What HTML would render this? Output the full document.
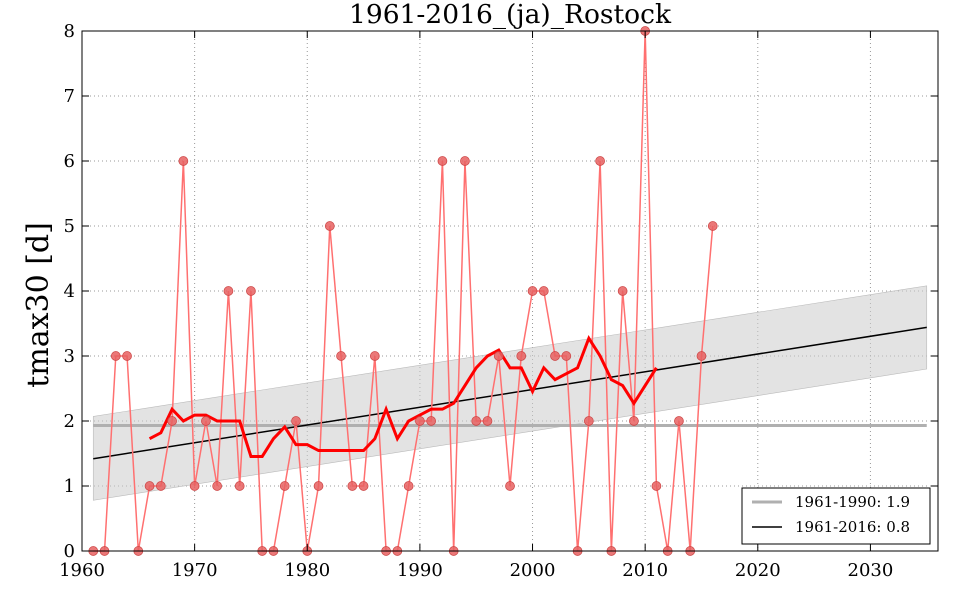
<!DOCTYPE html>
<html><head><meta charset="utf-8"><style>body{margin:0;background:#fff}svg{display:block}</style></head>
<body>
<svg id="s" width="960" height="600" xmlns="http://www.w3.org/2000/svg" font-family="'DejaVu Serif','Liberation Serif',serif">
<rect width="960" height="600" fill="#fff"/>
<g id="g"></g>
</svg>
<script>
const v=[0,0,3,3,0,1,1,2,6,1,2,1,4,1,4,0,0,1,2,0,1,5,3,1,1,3,0,0,1,2,2,6,0,6,2,2,3,1,3,4,4,3,3,0,2,6,0,4,2,8,1,0,2,0,3,5];
const X=y=>82+(y-1960)*856/76, Y=t=>551-t*65;
let h='';
for(let yr=1970;yr<=2030;yr+=10)h+=`<line x1="${X(yr)}" y1="31" x2="${X(yr)}" y2="551" stroke="#999" stroke-dasharray="1,3"/>`;
for(let t=1;t<8;t++)h+=`<line x1="82" y1="${Y(t)}" x2="938" y2="${Y(t)}" stroke="#999" stroke-dasharray="1,3"/>`;
h+=`<polygon points="${X(1961)},${Y(2.07)} ${X(2035)},${Y(4.08)} ${X(2035)},${Y(2.8)} ${X(1961)},${Y(0.78)}" fill="#ccc" fill-opacity="0.55" stroke="#bbb" stroke-width="0.6"/>`;
h+=`<line x1="${X(1961)}" y1="${Y(1.93)}" x2="${X(2035)}" y2="${Y(1.93)}" stroke="#b0b0b0" stroke-width="3"/>`;
h+=`<line x1="${X(1961)}" y1="${Y(1.42)}" x2="${X(2035)}" y2="${Y(3.44)}" stroke="#000" stroke-width="1.5"/>`;
h+=`<polyline fill="none" stroke="#ff7070" stroke-width="1.5" points="${v.map((t,i)=>X(1961+i)+','+Y(t)).join(' ')}"/>`;
let m=[];for(let i=5;i<v.length-5;i++){let s=0;for(let k=-5;k<=5;k++)s+=v[i+k];m.push(X(1961+i)+','+Y(s/11));}
h+=`<polyline fill="none" stroke="#f00" stroke-width="3" points="${m.join(' ')}"/>`;
v.forEach((t,i)=>h+=`<circle cx="${X(1961+i)}" cy="${Y(t)}" r="4.5" fill="#e86060" fill-opacity="0.85" stroke="#c44" stroke-width="0.7"/>`);
h+=`<rect x="82" y="31" width="856" height="520" fill="none" stroke="#000" stroke-width="1"/>`;
for(let yr=1960;yr<=2030;yr+=10){h+=`<line x1="${X(yr)}" y1="551" x2="${X(yr)}" y2="544" stroke="#000"/><line x1="${X(yr)}" y1="31" x2="${X(yr)}" y2="38" stroke="#000"/><text x="${X(yr)}" y="576" font-size="18" text-anchor="middle">${yr}</text>`;}
for(let t=0;t<=8;t++){h+=`<line x1="82" y1="${Y(t)}" x2="89" y2="${Y(t)}" stroke="#000"/><line x1="938" y1="${Y(t)}" x2="931" y2="${Y(t)}" stroke="#000"/><text x="75" y="${Y(t)+6}" font-size="18" text-anchor="end">${t}</text>`;}
h+=`<text x="510" y="23" font-size="26.5" text-anchor="middle">1961-2016_(ja)_Rostock</text>`;
h+=`<text transform="translate(48,305) rotate(-90)" font-size="30" text-anchor="middle">tmax30 [d]</text>`;
h+=`<rect x="742" y="488" width="188" height="56" fill="#fff" stroke="#000"/>`;
h+=`<line x1="752" y1="502" x2="782" y2="502" stroke="#b0b0b0" stroke-width="3"/><text x="795" y="507" font-size="15">1961-1990: 1.9</text>`;
h+=`<line x1="752" y1="527" x2="782" y2="527" stroke="#000" stroke-width="1.5"/><text x="795" y="532" font-size="15">1961-2016: 0.8</text>`;
document.getElementById('g').innerHTML=h;
</script>
</body></html>
